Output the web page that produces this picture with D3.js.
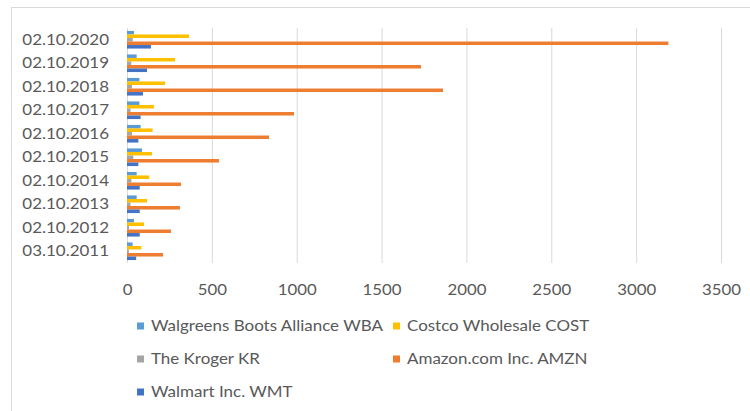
<!DOCTYPE html>
<html><head><meta charset="utf-8">
<script src="https://cdn.jsdelivr.net/npm/d3@7"></script>
<style>body{margin:0;background:#fff}svg{display:block}text{font-family:Lato,"Open Sans",sans-serif;fill:#595959}</style>
</head><body><svg id="c" width="750" height="411"></svg>
<script>
const categories = ["02.10.2020","02.10.2019","02.10.2018","02.10.2017","02.10.2016","02.10.2015","02.10.2014","02.10.2013","02.10.2012","03.10.2011"];
const seriesNames = ["Walgreens Boots Alliance WBA","Costco Wholesale COST","The Kroger KR","Amazon.com Inc. AMZN","Walmart Inc. WMT"];
const wba  = [41, 57, 73, 73, 80, 88, 57, 57, 41, 33];
const cost = [365, 283, 224, 159, 151, 147, 131, 118, 100, 84];
const kr   = [34, 25, 29, 21, 30, 37, 26, 20, 12, 11];
const amzn = [3190, 1732, 1862, 984, 837, 542, 318, 312, 259, 212];
const wmt  = [141, 118, 94, 80, 67, 67, 75, 75, 75, 54];
const xTicks = [0,500,1000,1500,2000,2500,3000,3500];
const colors = ["#5B9BD5","#FFC000","#A5A5A5","#ED7D31","#4472C4"];
const values = [wba, cost, kr, amzn, wmt];

function stretch(sel, f){
  sel.each(function(){
    const w = this.getComputedTextLength();
    d3.select(this).attr("textLength", w*f).attr("lengthAdjust","spacingAndGlyphs");
  });
}

const svg = d3.select("#c");
svg.append("rect").attr("x",11.5).attr("y",7.5).attr("width",800).attr("height",450)
  .attr("fill","none").attr("stroke","#d9d9d9");

const x = d3.scaleLinear().domain([0,3500]).range([127,721]);
const y = d3.scaleBand().domain(categories).range([28,263]).paddingInner(0.25).paddingOuter(0.125);
const yi = d3.scaleBand().domain(seriesNames).range([0,y.bandwidth()]);

svg.append("g").selectAll("line").data(xTicks).join("line")
  .attr("x1",d=>x(d)+0.5).attr("x2",d=>x(d)+0.5).attr("y1",28).attr("y2",263)
  .attr("stroke","#d9d9d9").attr("stroke-width",1);

const rows = categories.map((c,i)=>({c, vals: seriesNames.map((s,j)=>({s, v: values[j][i], col: colors[j]}))}));
svg.append("g").selectAll("g").data(rows).join("g")
  .attr("transform",d=>`translate(0,${y(d.c)})`)
  .selectAll("rect").data(d=>d.vals).join("rect")
  .attr("x",x(0)).attr("y",d=>yi(d.s)).attr("height",yi.bandwidth())
  .attr("width",d=>x(d.v)-x(0)).attr("fill",d=>d.col);

const xa = svg.append("g").attr("transform","translate(0,281)")
  .call(d3.axisBottom(x).tickValues(xTicks).tickSize(0).tickFormat(d3.format("d")));
xa.select(".domain").remove();
xa.selectAll("text").attr("font-size",15).style("font-family","Lato").attr("fill","#595959");
stretch(xa.selectAll("text"), 1.12);

const ya = svg.append("g").attr("transform","translate(109,0)")
  .call(d3.axisLeft(y).tickSize(0));
ya.select(".domain").remove();
ya.selectAll("text").attr("font-size",16).style("font-family","Lato").attr("fill","#595959").attr("x",0);
stretch(ya.selectAll("text"), 1.06);

const legPos = [[137,326],[393,326],[137,359],[393,359],[137,392]];
const lg = svg.append("g").selectAll("g").data(seriesNames).join("g")
  .attr("transform",(d,i)=>`translate(${legPos[i][0]},${legPos[i][1]})`);
lg.append("rect").attr("x",0).attr("y",-3.5).attr("width",7).attr("height",7).attr("fill",(d,i)=>colors[i]);
const lt = lg.append("text").attr("x",14).attr("dy","0.35em").attr("font-size",15).text(d=>d);
stretch(lt, 1.13);
</script></body></html>
